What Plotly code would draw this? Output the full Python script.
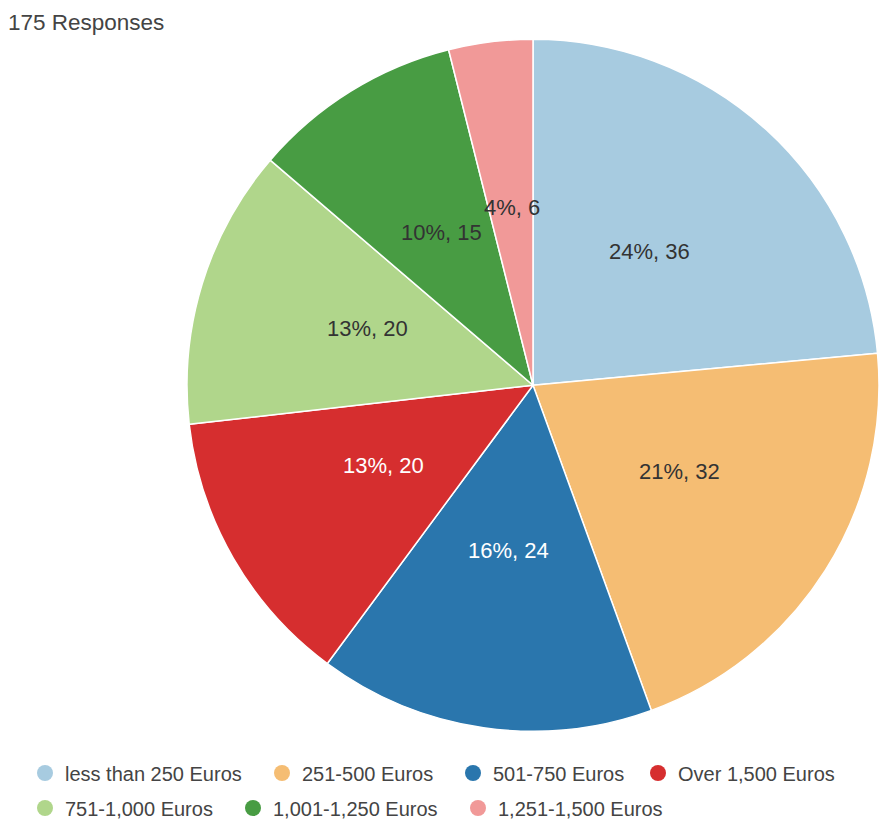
import math
import plotly.graph_objects as go

# Survey: spending brackets, clockwise from 12 o'clock
categories = [
    "less than 250 Euros",
    "251-500 Euros",
    "501-750 Euros",
    "Over 1,500 Euros",
    "751-1,000 Euros",
    "1,001-1,250 Euros",
    "1,251-1,500 Euros",
]
counts = [36, 32, 24, 20, 20, 15, 6]
colors = ["#a7cbe0", "#f5bd73", "#2a76ad", "#d62e2f", "#b0d68b", "#489c43", "#f19998"]
label_colors = ["#333333", "#333333", "#ffffff", "#ffffff", "#333333", "#333333", "#333333"]
title_text = "175 Responses"

# Legend layout: two rows, item start positions in pixels
legend_rows = [0, 0, 0, 0, 1, 1, 1]
legend_x_px = [25, 262, 453, 638, 25, 233, 458]
row_y_px = [773, 808]

W, H = 880, 820
cx, cy, r = 533, 385, 346      # pie centre / radius in pixels
plot_h = H - 67                # plot area left above the legend rows


def py_to_paper(py):
    return 1 - py / plot_h


fig = go.Figure()

fig.add_trace(go.Pie(
    labels=categories,
    values=counts,
    sort=False,
    direction="clockwise",
    rotation=0,
    marker=dict(colors=colors, line=dict(color="#ffffff", width=1.5)),
    textinfo="none",
    showlegend=False,
    hoverinfo="label+value+percent",
    domain=dict(x=[(cx - r) / W, min(1, (cx + r) / W)],
                y=[py_to_paper(cy + r), py_to_paper(cy - r)]),
))

# Slice labels ("pct%, count") placed at half radius on each slice's mid-angle
total = sum(counts)
start = 0.0
for v, tc in zip(counts, label_colors):
    frac = v / total
    mid = (start + frac / 2) * 2 * math.pi
    start += frac
    px = cx + 0.5 * r * math.sin(mid)
    py = cy - 0.5 * r * math.cos(mid) - 6
    fig.add_annotation(
        x=px / W, y=py_to_paper(py), xref="paper", yref="paper",
        text=f"{round(100 * frac)}%, {v}", showarrow=False,
        xanchor="center", yanchor="middle",
        font=dict(size=22, color=tc, family="Liberation Sans, Arial, sans-serif"),
    )

# Legend entries with round markers, one legend box per entry
for i, (name, col) in enumerate(zip(categories, colors)):
    lg = "legend" if i == 0 else f"legend{i + 1}"
    fig.add_trace(go.Scatter(
        x=[None], y=[None], mode="markers", name=name,
        marker=dict(symbol="circle", size=16, color=col),
        legend=lg, showlegend=True,
    ))

legend_layouts = {}
for i in range(len(categories)):
    key = "legend" if i == 0 else f"legend{i + 1}"
    legend_layouts[key] = dict(
        x=legend_x_px[i] / W, xref="container",
        xanchor="left",
        y=1 - row_y_px[legend_rows[i]] / H, yref="container",
        yanchor="middle",
        orientation="h",
        font=dict(size=20, color="#444444", family="Liberation Sans, Arial, sans-serif"),
        bgcolor="rgba(0,0,0,0)",
        borderwidth=0,
    )

fig.update_layout(
    width=W, height=H,
    margin=dict(l=0, r=0, t=0, b=0),
    paper_bgcolor="#ffffff",
    plot_bgcolor="#ffffff",
    title=dict(
        text=title_text,
        x=8 / W, xanchor="left",
        y=1 - 22 / H, yanchor="middle",
        font=dict(size=22.5, color="#444444", family="Liberation Sans, Arial, sans-serif"),
    ),
    xaxis=dict(visible=False),
    yaxis=dict(visible=False),
    **legend_layouts,
)

fig.write_html("out.html")
